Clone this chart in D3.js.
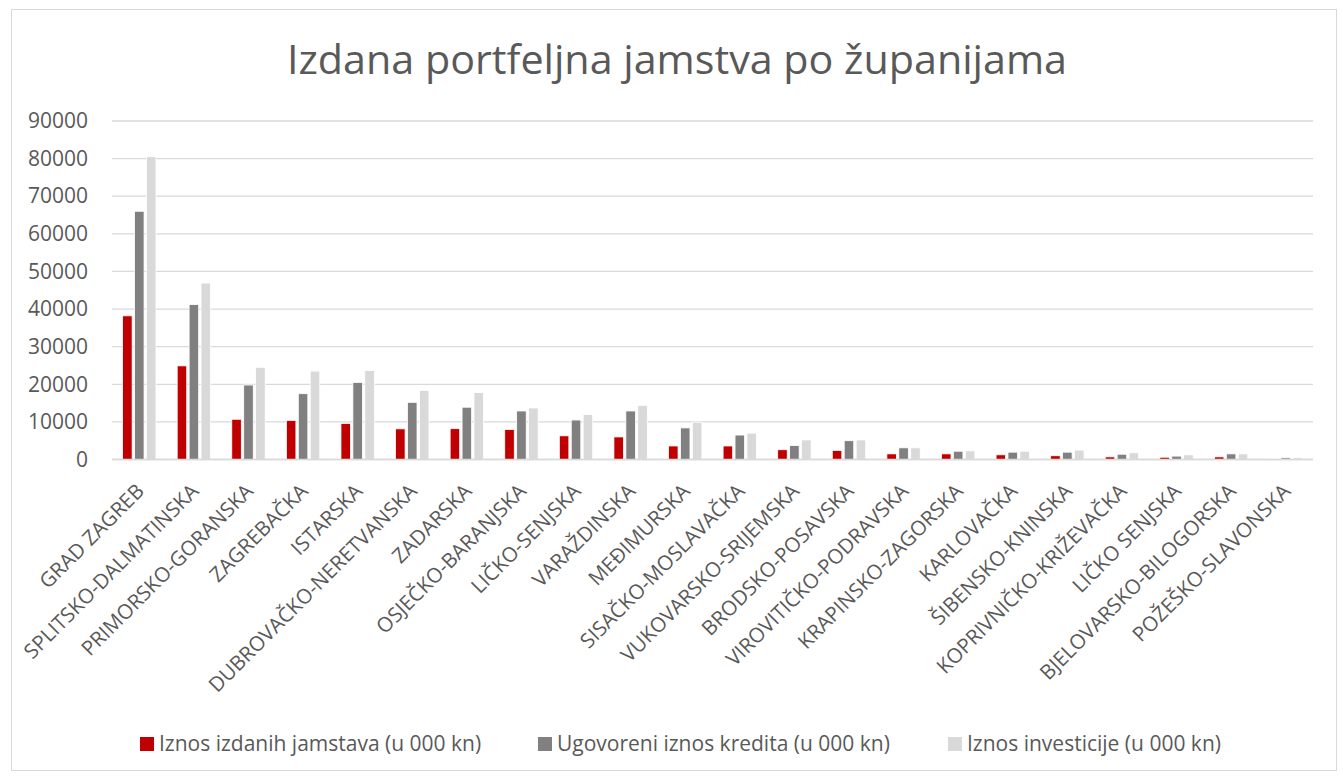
<!DOCTYPE html>
<html>
<head>
<meta charset="utf-8">
<script src="https://cdn.jsdelivr.net/npm/d3@7"></script>
<style>
  html, body { margin: 0; padding: 0; background: #fff; }
  svg { display: block; }
  text { font-family: "Open Sans", "Noto Sans", sans-serif; fill: #595959; }
</style>
</head>
<body>
<svg id="chart" width="1343" height="776"></svg>
<script>
const categories = [
  "GRAD ZAGREB", "SPLITSKO-DALMATINSKA", "PRIMORSKO-GORANSKA", "ZAGREBAČKA", "ISTARSKA",
  "DUBROVAČKO-NERETVANSKA", "ZADARSKA", "OSJEČKO-BARANJSKA", "LIČKO-SENJSKA", "VARAŽDINSKA",
  "MEĐIMURSKA", "SISAČKO-MOSLAVAČKA", "VUKOVARSKO-SRIJEMSKA", "BRODSKO-POSAVSKA",
  "VIROVITIČKO-PODRAVSKA", "KRAPINSKO-ZAGORSKA", "KARLOVAČKA", "ŠIBENSKO-KNINSKA",
  "KOPRIVNIČKO-KRIŽEVAČKA", "LIČKO SENJSKA", "BJELOVARSKO-BILOGORSKA", "POŽEŠKO-SLAVONSKA"
];
const seriesNames = [
  "Iznos izdanih jamstava (u 000 kn)",
  "Ugovoreni iznos kredita (u 000 kn)",
  "Iznos investicije (u 000 kn)"
];
const jamstva = [38200, 24900, 10700, 10400, 9600, 8150, 8200, 8000, 6300, 6000, 3600, 3600, 2600, 2400, 1500, 1500, 1250, 1000, 700, 600, 700, 100];
const krediti = [66000, 41200, 19800, 17500, 20500, 15200, 13900, 12900, 10500, 12900, 8400, 6500, 3700, 5000, 3100, 2200, 1950, 1950, 1400, 900, 1500, 450];
const investicije = [80500, 46900, 24500, 23500, 23700, 18400, 17800, 13700, 12000, 14400, 9900, 7000, 5200, 5200, 3100, 2300, 2200, 2500, 1800, 1250, 1500, 450];
const yTicks = [0, 10000, 20000, 30000, 40000, 50000, 60000, 70000, 80000, 90000];
const colors = ["#C00000", "#808080", "#D9D9D9"];
const title = "Izdana portfeljna jamstva po županijama";

(function () {
const seriesValues = [jamstva, krediti, investicije];
const svg = d3.select("#chart");

svg.append("rect")
  .attr("x", 11.5).attr("y", 9.5)
  .attr("width", 1325).attr("height", 761)
  .attr("fill", "#fff").attr("stroke", "#d9d9d9").attr("stroke-width", 1);

svg.append("text")
  .attr("x", 677).attr("y", 74)
  .attr("text-anchor", "middle")
  .attr("font-size", 40)
  .attr("textLength", 780)
  .attr("lengthAdjust", "spacingAndGlyphs")
  .text(title);

const pL = 112, pR = 1313, pT = 121, pB = 459.5;

const x0 = d3.scaleBand().domain(categories).range([pL, pR]).padding(0);
const y = d3.scaleLinear().domain([0, 90000]).range([pB, pT]);

svg.append("g").selectAll("line")
  .data(yTicks)
  .join("line")
  .attr("x1", pL).attr("x2", pR)
  .attr("y1", d => y(d)).attr("y2", d => y(d))
  .attr("stroke", "#d9d9d9").attr("stroke-width", 1.3);

const yAxis = d3.axisLeft(y).tickValues(yTicks).tickSize(0).tickPadding(0).tickFormat(d3.format("d"));
const yg = svg.append("g").attr("transform", "translate(88,0)").call(yAxis);
yg.select(".domain").remove();
yg.selectAll("text")
  .attr("font-size", 21)
  .attr("fill", "#595959")
  .style("font-family", '"Open Sans", sans-serif');

const groupHalf = 16.7;
const x1 = d3.scaleBand().domain([0, 1, 2]).range([-groupHalf, groupHalf]).paddingInner(0.2).paddingOuter(0);

const groups = svg.append("g").selectAll("g")
  .data(categories)
  .join("g")
  .attr("transform", d => `translate(${x0(d) + x0.bandwidth() / 2},0)`);

groups.selectAll("rect")
  .data((d, i) => seriesValues.map((s, k) => ({ k, v: s[i] })))
  .join("rect")
  .attr("x", d => x1(d.k))
  .attr("width", x1.bandwidth())
  .attr("y", d => y(d.v))
  .attr("height", d => pB - y(d.v))
  .attr("fill", d => colors[d.k])
  .attr("stroke", "#fff").attr("stroke-width", 0.8);

svg.append("line")
  .attr("x1", pL).attr("x2", pR)
  .attr("y1", pB).attr("y2", pB)
  .attr("stroke", "#d9d9d9").attr("stroke-width", 1.3);

const xAxis = d3.axisBottom(x0).tickSize(0).tickPadding(0);
const xg = svg.append("g").attr("transform", `translate(0,${pB})`).call(xAxis);
xg.select(".domain").remove();
xg.selectAll("text")
  .attr("font-size", 20.5)
  .attr("fill", "#595959")
  .style("font-family", '"Open Sans", sans-serif')
  .attr("text-anchor", "end")
  .attr("dy", null)
  .attr("y", 0)
  .attr("transform", "translate(6,33) rotate(-45)");

const legendItems = [
  { x: 140, tx: 159 },
  { x: 538, tx: 557 },
  { x: 948, tx: 967 }
];
const lg = svg.append("g");
seriesNames.forEach((name, k) => {
  lg.append("rect")
    .attr("x", legendItems[k].x).attr("y", 737)
    .attr("width", 14).attr("height", 14)
    .attr("fill", colors[k]);
  lg.append("text")
    .attr("x", legendItems[k].tx).attr("y", 751)
    .attr("font-size", 21)
    .text(name);
});
})();
</script>
</body>
</html>
